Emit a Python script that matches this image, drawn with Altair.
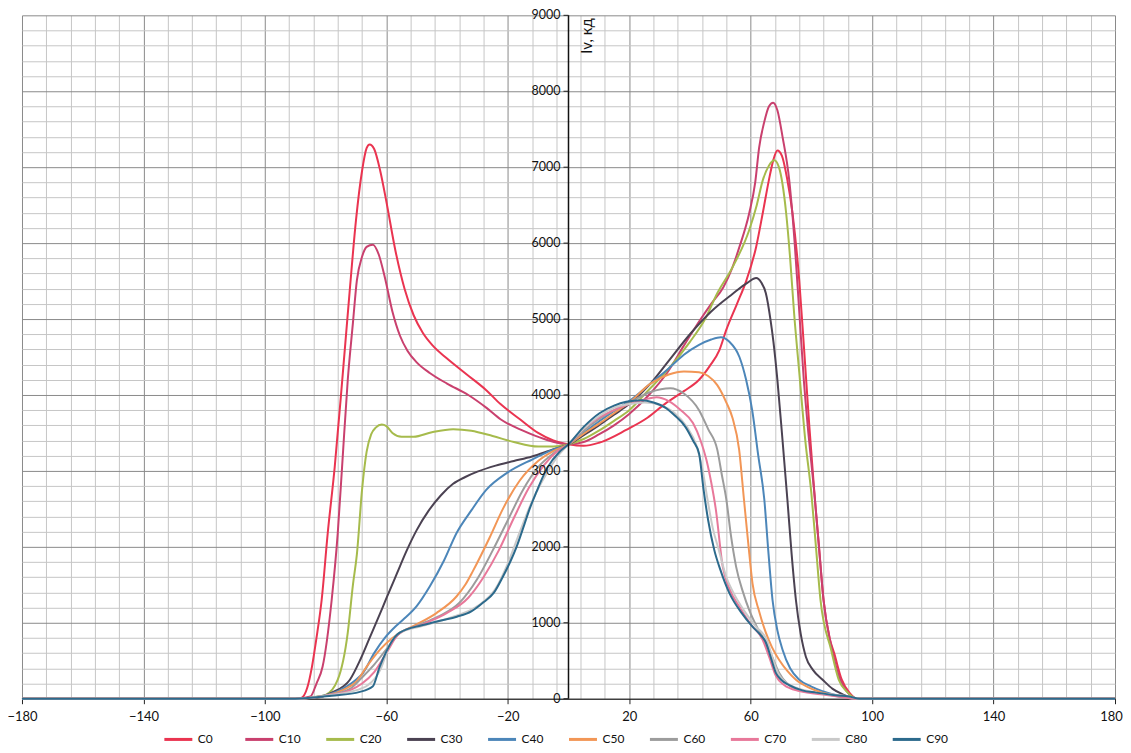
import altair as alt
import pandas as pd

series_names = ["C0", "C10", "C20", "C30", "C40", "C50", "C60", "C70", "C80", "C90"]
series_colors = ["#ea3450", "#c9406e", "#a6bb4c", "#4b4252", "#4c86b9",
                 "#f29656", "#9c9c9c", "#e8789a", "#c9c9c9", "#2c6a8c"]

C0_x = [-180, -90, -88, -86, -84.5, -83, -81.3, -79.3, -77, -74.3, -72, -70, -68, -66.5, -65.5, -64, -62, -60, -57,
        -54, -51, -48, -44.7, -40, -33.5, -27, -22.4, -16, -10, -5, 0, 5, 10, 19, 26, 32, 38, 43, 46.5, 49.7, 52, 55.5,
        58.6, 61.8, 64, 66, 67.5, 68.8, 70.3, 72, 73.8, 76, 77.6, 79.3, 81, 82.5, 84, 86, 87.5, 90, 92.5, 95, 180]
C0_y = [0, 0, 10, 150, 420, 800, 1300, 2180, 3050, 4300, 5400, 6300, 6950, 7250, 7300, 7240, 6950, 6550, 5900,
        5400, 5050, 4820, 4650, 4480, 4270, 4060, 3880, 3680, 3500, 3400, 3350, 3330, 3370, 3540, 3700, 3890, 4050, 4200, 4380, 4590, 4860, 5200,
        5510, 5950, 6400, 6830, 7100, 7220, 7150, 6850, 6390, 5510, 4600, 3600, 2700, 2000, 1300, 800, 600, 250, 80, 0, 0]

C10_x = [-180, -90, -85, -83, -81, -78, -76, -74.5, -72.7, -71, -69.7, -68, -66.5, -64.4, -62.5, -60.5, -58, -55.5,
         -53, -50, -45.7, -40, -33, -27, -22.4, -15, -8, 0, 5, 10, 15, 20, 26, 32.6, 38, 43.4, 47, 51, 54, 56.3, 59.5,
         61.5, 62.8, 64.5, 66, 67.4, 68.8, 70.5, 72.7, 74.5, 76, 77.5, 79, 81, 82.5, 84, 86.5, 89.5, 92, 95, 180]
C10_y = [0, 0, 30, 200, 420, 1300, 2180, 3100, 4200, 4950, 5510, 5820, 5950, 5980, 5850, 5550, 5100, 4780,
         4580, 4430, 4290, 4150, 4000, 3830, 3680, 3530, 3420, 3350, 3380, 3480, 3600, 3750, 3980, 4300, 4650, 4990, 5200, 5420, 5680, 5950, 6390,
         6800, 7260, 7600, 7800, 7850, 7750, 7400, 6830, 6000, 5100, 4200, 3500, 2700, 2000, 1300, 700, 250, 80, 0, 0]

C20_x = [-180, -90, -84, -80, -76, -72.7, -71, -69.7, -68, -66.5, -65, -63.5, -61.5, -60, -58, -55, -51, -45, -38,
         -32, -25, -18, -10, -5, 0, 5, 10, 15, 20, 26, 32, 40, 45, 49, 54, 59.5, 62, 64, 66, 67.8, 69.3, 71.7, 73,
         74.3, 76, 78, 80, 81.5, 83, 86.5, 89, 92, 95, 180]
C20_y = [0, 0, 20, 50, 250, 870, 1500, 1900, 2750, 3250, 3480, 3570, 3610, 3590, 3500, 3450, 3450, 3510, 3550,
         3530, 3460, 3380, 3320, 3320, 3350, 3420, 3530, 3660, 3800, 4050, 4300, 4700, 5000, 5340, 5680, 6170, 6500, 6830, 7020, 7090, 7000, 6390, 5800,
         5080, 4300, 3400, 2700, 2000, 1300, 645, 250, 80, 0, 0]

C30_x = [-180, -90, -82, -78, -72, -68.5, -65.5, -62.5, -60, -56.5, -53.3, -50, -46, -42, -38, -34, -30,
         -24, -18, -12, -6, 0, 5, 10, 15, 20, 27, 33, 40, 47, 54, 59, 61.8, 63.5, 65, 66.5, 67.5, 68.8, 70.5, 72.1,
         73.5, 74.9, 76.5, 78.2, 80.5, 83.7, 87, 90.2, 95, 180]
C30_y = [0, 0, 20, 80, 250, 520, 800, 1080, 1320, 1650, 1950, 2220, 2480, 2680, 2830, 2920, 2990,
         3070, 3130, 3190, 3270, 3350, 3470, 3600, 3740, 3880, 4150, 4450, 4800, 5100, 5330, 5480, 5540, 5480, 5340, 5000, 4700, 4200, 3400, 2620,
         1900, 1300, 850, 550, 380, 250, 130, 60, 0, 0]

C40_x = [-180, -90, -82, -76, -70, -67.7, -64, -60.5, -57, -54.5, -50, -45.7, -41, -36.9, -32, -27.1, -20, -12, -5,
         0, 5, 10, 15, 20, 27, 33, 38, 43, 47, 50.2, 53, 56.3, 58.5, 60.5, 62.5, 64.5, 65.8, 67.2, 68.8, 70.5, 73, 76,
         80, 83.6, 88, 95, 180]
C40_y = [0, 0, 30, 100, 250, 338, 600, 800, 950, 1040, 1220, 1478, 1820, 2180, 2480, 2750, 2980, 3150, 3280,
         3350, 3500, 3650, 3790, 3920, 4150, 4350, 4530, 4660, 4730, 4760, 4700, 4500, 4200, 3800, 3200, 2620, 1950, 1300, 900, 645, 400, 250,
         160, 100, 50, 0, 0]

C50_x = [-180, -90, -80, -74, -70, -66, -62, -58, -55, -50, -43.5, -36.9, -34, -31.5, -26, -21.6, -16.1, -10, -5, 0,
         5, 10, 15, 20, 27, 33, 38, 43, 46, 49, 52, 54, 56.2, 57.8, 59.2, 60.6, 62.8, 65, 67, 69.4, 72, 74.9, 79, 83.6,
         89, 95, 180]
C50_y = [0, 0, 40, 120, 220, 450, 650, 800, 880, 980, 1128, 1346, 1500, 1680, 2120, 2500, 2870, 3130, 3260, 3350,
         3490, 3620, 3760, 3900, 4150, 4270, 4310, 4300, 4250, 4130, 3900, 3700, 3280, 2620, 2050, 1520, 1150, 870, 680, 510, 370, 250, 150, 80,
         40, 0, 0]

C60_x = [-180, -90, -80, -72, -68, -64, -60, -56, -50, -43, -36, -30, -25, -20, -15, -10, -5, 0, 5, 10, 15, 20, 27,
         33.5, 38, 43, 46, 49, 50.5, 52, 53.5, 55.2, 57.5, 59.5, 62, 65, 67, 69.4, 72, 76, 85, 95, 180]
C60_y = [0, 0, 40, 130, 280, 450, 650, 850, 960, 1080, 1260, 1580, 1950, 2350, 2750, 3050, 3230, 3350, 3530, 3680, 3800, 3900, 4040,
         4090, 4020, 3800, 3550, 3280, 2950, 2620, 2150, 1740, 1400, 1170, 950, 740, 560, 340, 200, 120, 60, 0, 0]

C70_x = [-180, -90, -80, -72, -68, -64, -60, -56, -48, -40, -33, -28, -23, -18, -13, -8, -4, 0, 5, 10, 15, 20, 25,
         29, 33, 37, 41, 43.5, 45.4, 47, 48.5, 50.8, 53, 56.3, 60, 63.9, 66, 68.3, 71, 76, 85, 95, 180]
C70_y = [0, 0, 40, 110, 200, 350, 600, 850, 980, 1130, 1330, 1600, 1950, 2380, 2780, 3080, 3250, 3350, 3560, 3700, 3800, 3880, 3940,
         3970, 3920, 3800, 3630, 3400, 3150, 2850, 2500, 1740, 1450, 1210, 980, 780, 560, 300, 180, 100, 50, 0, 0]

C80_x = [-180, -90, -80, -72, -66, -62, -59, -56, -48, -38, -30, -24, -20, -16, -12, -7, -3, 0, 5, 10, 15, 20, 25,
         30, 35, 39, 42, 44, 45.8, 47.5, 49.5, 52, 54, 58, 61.5, 65.5, 67, 69, 73, 81.5, 92.4, 96, 180]
C80_y = [0, 0, 40, 90, 180, 380, 700, 860, 960, 1080, 1220, 1450, 1780, 2200, 2600, 2980, 3220, 3350, 3560, 3720, 3830, 3880, 3900,
         3870, 3760, 3580, 3350, 3050, 2620, 2250, 1960, 1600, 1420, 1150, 960, 760, 560, 340, 180, 80, 30, 0, 0]

C90_x = [-180, -90, -78, -68.7, -64.5, -62.2, -60, -57, -55.6, -48, -42, -36.8, -32, -28.3, -24.5, -21.7, -19, -17.1,
         -14.5, -12.8, -10.6, -7, -3, 0, 5, 10.2, 15, 19, 24, 28, 32, 35, 38.5, 41, 43, 44.5, 46, 48, 50, 53, 57, 60.6,
         63, 65, 66.5, 68.3, 70, 72.7, 77, 81.5, 88, 92.4, 96, 180]
C90_y = [0, 0, 40, 90, 160, 420, 620, 820, 870, 970, 1030, 1080, 1150, 1260, 1400, 1600, 1820, 2000,
         2300, 2500, 2720, 3040, 3250, 3350, 3580, 3760, 3860, 3910, 3930, 3900, 3830, 3730, 3580, 3400, 3230, 2750, 2350, 1960, 1700, 1390, 1130, 950,
         850, 740, 560, 340, 250, 180, 110, 80, 45, 30, 0, 0]

x_ticks_grid = list(range(-180, 181, 8))
y_ticks_grid = list(range(0, 9001, 200))
y_tick_labels = [0, 1000, 2000, 3000, 4000, 5000, 6000, 7000, 8000, 9000]
y_title = "Iv, кд"

series_data = [
    ("C0", C0_x, C0_y), ("C10", C10_x, C10_y), ("C20", C20_x, C20_y), ("C30", C30_x, C30_y),
    ("C40", C40_x, C40_y), ("C50", C50_x, C50_y), ("C60", C60_x, C60_y), ("C70", C70_x, C70_y),
    ("C80", C80_x, C80_y), ("C90", C90_x, C90_y),
]
frames = [pd.DataFrame({"angle": xs, "iv": ys, "series": name}) for name, xs, ys in series_data]
df = pd.concat(frames, ignore_index=True)
ylab_df = pd.DataFrame({"iv": y_tick_labels})

FONT = "Lato"
PLOT_W = 1094
PLOT_H = 684

x_major = "(datum.value + 180) % 40 === 0"
y_major = "datum.value % 1000 === 0"

x_scale = alt.Scale(domain=[-180, 180], nice=False, zero=False)
y_scale = alt.Scale(domain=[0, 9000], nice=False)

x_axis = alt.Axis(
    values=x_ticks_grid, tickCount=200, grid=True,
    gridColor={"condition": {"test": x_major, "value": "#8a8a8a"}, "value": "#c6c6c6"},
    gridWidth=1,
    labelExpr=f"{x_major} ? datum.label : ''",
    labelFont=FONT, labelFontSize=13, labelColor="#111", labelPadding=7,
    labelOverlap=False, labelFlush=False,
    labelOffset={"condition": {"test": "datum.value === 180", "value": -4}, "value": 0},
    tickOpacity={"condition": {"test": x_major, "value": 1}, "value": 0},
    tickColor="#222", tickSize=5,
    domainColor="#111", domainWidth=1, title=None,
)
y_axis = alt.Axis(
    values=y_ticks_grid, tickCount=200, grid=True,
    gridColor={"condition": {"test": y_major, "value": "#8a8a8a"}, "value": "#c6c6c6"},
    gridWidth=1, labels=False, ticks=False, domain=False, title=None,
)

lines = alt.Chart(df).mark_line(strokeWidth=2, interpolate="monotone").encode(
    x=alt.X("angle:Q", scale=x_scale, axis=x_axis),
    y=alt.Y("iv:Q", scale=y_scale, axis=y_axis),
    color=alt.Color(
        "series:N",
        scale=alt.Scale(domain=series_names, range=series_colors),
        legend=alt.Legend(
            title=None, orient="none", legendX=141, legendY=709, direction="horizontal",
            columns=10, symbolType="stroke", symbolSize=784, symbolStrokeWidth=3,
            labelFont=FONT, labelFontSize=12, labelColor="#111", columnPadding=19,
            gridAlign="all", labelOffset=4,
        ),
    ),
)

# vertical value axis standing at angle 0
axis_line = alt.Chart(pd.DataFrame({"iv": [0]})).mark_rule(color="#111", strokeWidth=1.5).encode(
    x=alt.datum(0), y=alt.datum(0), y2=alt.datum(9000)
)
axis_ticks = alt.Chart(ylab_df).mark_rule(color="#222", strokeWidth=1, xOffset=-5).encode(
    x=alt.datum(0), x2=alt.datum(0), y=alt.Y("iv:Q", scale=y_scale, axis=y_axis)
)
axis_labels = alt.Chart(ylab_df).mark_text(
    align="right", baseline="middle", dx=-8, fontSize=12.5, font=FONT, color="#111"
).encode(
    x=alt.datum(0), y=alt.Y("iv:Q", scale=y_scale, axis=y_axis), text=alt.Text("iv:Q", format="d")
)

ylabel = alt.Chart(pd.DataFrame({"t": [y_title]})).mark_text(
    angle=270, align="right", baseline="middle", dx=-3, dy=19, fontSize=15, font=FONT, color="#111"
).encode(x=alt.datum(0), y=alt.datum(9000), text="t:N")

chart = alt.layer(lines, axis_line, axis_ticks, axis_labels, ylabel).properties(
    width=PLOT_W, height=PLOT_H,
    padding={"left": 14, "top": 7, "right": 8, "bottom": 46},
    autosize=alt.AutoSizeParams(type="none"),
    background="white",
).configure_view(stroke=None)

chart.save("out.html", embed_options={"renderer": "svg", "actions": False})
